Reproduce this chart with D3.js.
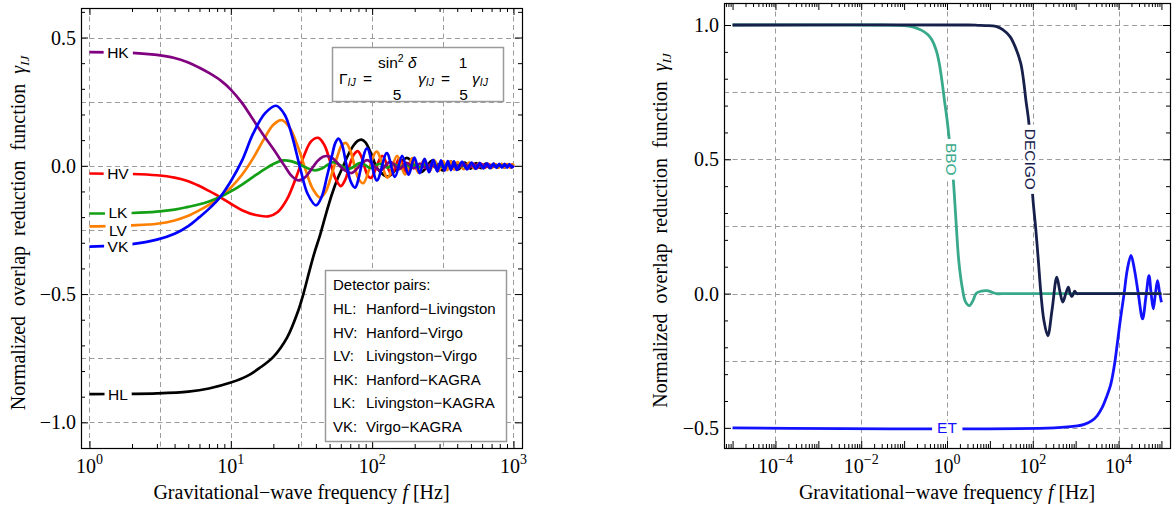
<!DOCTYPE html>
<html>
<head>
<meta charset="utf-8">
<script src="https://cdn.jsdelivr.net/npm/d3@7/dist/d3.min.js"></script>
<style>
html,body{margin:0;padding:0;background:#fff;}
svg{display:block;}
</style>
</head>
<body>
<svg id="chart" width="1176" height="511"></svg>
<script>
// ================= DATA =================
// Left panel: [frequency f (Hz), normalized overlap reduction function gamma_IJ]
const HL = [[1,-0.89],[2,-0.889],[3,-0.887],[5,-0.88],[7,-0.868],[10,-0.845],[13,-0.82],[16,-0.788],[20,-0.745],[25,-0.67],[30,-0.565],[32.6,-0.5],[36,-0.41],[39,-0.34],[42.8,-0.27],[47,-0.19],[52,-0.11],[57,-0.05],[62.6,0.0],[68,0.045],[74,0.08],[79,0.097],[84,0.102],[90,0.09],[96,0.06],[102,0.025],[108,-0.008],[130,-0.042],[176,0.031],[222,-0.025],[268,0.021],[314,-0.018],[360,0.016],[406,-0.014],[452,0.012],[498,-0.011],[544,0.01],[590,-0.0095],[636,0.0088],[682,-0.0082],[728,0.0076],[774,-0.0072],[820,0.0068],[866,-0.0064],[912,0.006],[958,-0.0058],[1000,0]];
const HV = [[1,-0.03],[2,-0.032],[3,-0.037],[4,-0.046],[5,-0.06],[6,-0.079],[7,-0.098],[8.4,-0.122],[10,-0.148],[12,-0.173],[15,-0.192],[18.4,-0.197],[21.5,-0.18],[25,-0.13],[29,-0.045],[33,0.04],[37,0.095],[41.6,0.109],[46,0.08],[50.5,0.015],[55,-0.05],[60,-0.079],[65,-0.05],[70,0.01],[74.5,0.045],[79,0.057],[84,0.035],[89,-0.01],[93.5,-0.04],[98.5,-0.047],[118,0.039],[137,-0.033],[156,0.029],[175,-0.026],[194,0.023],[213,-0.021],[232,0.019],[251,-0.018],[270,0.017],[289,-0.016],[308,0.015],[327,-0.014],[346,0.013],[365,-0.012],[384,0.012],[403,-0.011],[441,0.01],[479,-0.0095],[517,0.009],[555,-0.0085],[593,0.008],[631,-0.0075],[669,0.007],[707,-0.0065],[745,0.006],[783,-0.006],[821,0.0055],[859,-0.0055],[897,0.005],[935,-0.005],[973,0.0045],[1000,0]];
const LV = [[1,-0.236],[2,-0.232],[3,-0.226],[4,-0.213],[5,-0.195],[6,-0.173],[7,-0.152],[8.4,-0.123],[10,-0.085],[12,-0.035],[14.4,0.03],[17,0.1],[20,0.16],[22.9,0.178],[26,0.15],[30,0.07],[34,-0.02],[38,-0.09],[42.8,-0.124],[47,-0.1],[52,-0.03],[57,0.04],[61,0.08],[65.3,0.089],[70,0.06],[75,0.0],[80,-0.05],[86.5,-0.068],[107.5,0.055],[128.5,-0.046],[150,0.039],[171,-0.034],[192,0.03],[213,-0.027],[234,0.025],[255,-0.023],[276,0.021],[297,-0.0195],[318,0.018],[339,-0.017],[360,0.016],[381,-0.015],[402,0.0144],[444,-0.013],[486,0.012],[528,-0.011],[570,0.01],[612,-0.0095],[654,0.009],[696,-0.0083],[738,0.0079],[780,-0.0075],[822,0.0071],[864,-0.0067],[906,0.0064],[948,-0.0061],[990,0.0059],[1000,0]];
const HK = [[1,0.443],[2,0.44],[3,0.432],[4,0.42],[5,0.403],[6,0.382],[7,0.362],[8.5,0.332],[10,0.297],[12,0.245],[14,0.19],[17,0.12],[20,0.065],[24,0.0],[27,-0.04],[30,-0.057],[33.5,-0.045],[37,-0.015],[41,0.018],[44.5,0.034],[48.2,0.038],[53,0.028],[59,0.0],[65,-0.02],[71.7,-0.028],[92,0.022],[113,-0.018],[134,0.015],[155,-0.013],[176,0.011],[197,-0.01],[218,0.009],[239,-0.0085],[260,0.008],[281,-0.0072],[302,0.0067],[323,-0.0062],[344,0.0058],[365,-0.0055],[386,0.0052],[407,-0.005],[449,0.0045],[491,-0.0041],[533,0.0038],[575,-0.0035],[617,0.0032],[659,-0.003],[701,0.0029],[743,-0.0027],[785,0.0025],[827,-0.0024],[869,0.0023],[911,-0.0022],[953,0.0021],[995,-0.002],[1000,0]];
const LK = [[1,-0.186],[2,-0.184],[3,-0.179],[4,-0.171],[5,-0.16],[6,-0.15],[7,-0.139],[8.4,-0.122],[10,-0.1],[12,-0.073],[14.5,-0.042],[17.5,-0.012],[20.5,0.01],[23.5,0.021],[27,0.017],[31,0.004],[35,-0.01],[39.4,-0.018],[44,-0.011],[48.5,0.004],[53.2,0.014],[68,-0.012],[83,0.011],[98,-0.009],[113,0.008],[128,-0.007],[143,0.006],[158,-0.0057],[173,0.0052],[188,-0.0048],[203,0.0044],[218,-0.0041],[233,0.0039],[248,-0.0036],[263,0.0034],[278,-0.0033],[293,0.0031],[308,-0.003],[338,0.0028],[368,-0.0026],[398,0.0024],[428,-0.0022],[458,0.0021],[488,-0.002],[518,0.0019],[548,-0.0018],[578,0.0017],[608,-0.0016],[638,0.0015],[668,-0.0015],[698,0.0014],[728,-0.0014],[758,0.0013],[788,-0.0013],[818,0.0012],[848,-0.0012],[878,0.0011],[908,-0.0011],[938,0.0011],[968,-0.001],[1000,0]];
const VK = [[1,-0.315],[2,-0.305],[3,-0.288],[4,-0.265],[5,-0.235],[6,-0.2],[7,-0.168],[8.4,-0.122],[10,-0.06],[12,0.02],[14.4,0.126],[17.5,0.205],[20.9,0.234],[24,0.2],[27,0.12],[31,-0.01],[35,-0.11],[40.1,-0.154],[44,-0.12],[48,-0.04],[52,0.04],[55,0.09],[57.7,0.106],[61,0.085],[66,0.0],[71,-0.065],[75.7,-0.085],[92,0.068],[108,-0.057],[127,0.049],[145,-0.043],[163,0.039],[181,-0.035],[199,0.032],[217,-0.029],[235,0.027],[253,-0.025],[271,0.023],[289,-0.022],[307,0.021],[325,-0.019],[343,0.018],[361,-0.017],[379,0.017],[397,-0.016],[433,0.015],[469,-0.0135],[505,0.0125],[541,-0.0117],[577,0.011],[613,-0.0103],[649,0.0097],[685,-0.0092],[721,0.0087],[757,-0.0083],[793,0.008],[829,-0.0076],[865,0.0073],[901,-0.007],[937,0.0067],[973,-0.0065],[1000,0]];

const pairNames = ["HL","HV","LV","LK","HK","VK"];           // drawing order
const pairLabelGamma = [-0.89,-0.03,-0.25,-0.182,0.443,-0.315]; // value where each inline label sits
const pairLabelFreq = 1.59;
const legendTitle = "Detector pairs:";
const legendKeys  = ["HL:","HV:","LV:","HK:","LK:","VK:"];
const legendNames = ["Hanford−Livingston","Hanford−Virgo","Livingston−Virgo","Hanford−KAGRA","Livingston−KAGRA","Virgo−KAGRA"];

// Right panel: [log10 f (Hz), gamma_IJ]
const BBO = [[-5,1],[-1.5,1],[-1,0.998],[-0.8,0.993],[-0.6,0.981],[-0.45,0.965],[-0.35,0.944],[-0.25,0.905],[-0.18,0.857],[-0.12,0.795],[-0.06,0.72],[0,0.65],[0.047,0.582],[0.1,0.5],[0.148,0.422],[0.21,0.27],[0.274,0.123],[0.354,0.024],[0.43,-0.03],[0.52,-0.045],[0.6,-0.028],[0.685,0.001],[0.8,0.009],[0.93,0.011],[1.05,0.005],[1.15,0.0],[1.4,0],[5,0]];
const DECIGO = [[-5,1],[0.5,1],[0.72,0.999],[0.9,0.998],[1.14,0.995],[1.3,0.983],[1.47,0.957],[1.6,0.915],[1.72,0.857],[1.78,0.8],[1.84,0.72],[1.91,0.634],[1.955,0.5],[2.0,0.36],[2.07,0.24],[2.13,0.123],[2.19,0.0],[2.26,-0.1],[2.35,-0.157],[2.45,-0.06],[2.56,0.061],[2.63,0.01],[2.7,-0.032],[2.77,0.0],[2.83,0.024],[2.87,0.0],[2.91,-0.011],[2.95,0],[2.98,0.009],[3.02,0.0],[3.1,0],[5,0]];
const ET = [[-5,-0.5],[2.5,-0.5],[3.04,-0.493],[3.2,-0.487],[3.37,-0.474],[3.5,-0.455],[3.62,-0.424],[3.72,-0.385],[3.82,-0.337],[3.9,-0.27],[3.95,-0.213],[4.0,-0.15],[4.05,-0.088],[4.13,0.0],[4.2,0.085],[4.29,0.142],[4.37,0.09],[4.46,0.0],[4.56,-0.094],[4.64,-0.01],[4.71,0.067],[4.76,0.0],[4.81,-0.057],[4.86,0.0],[4.91,0.048],[4.96,0.0],[5.0,-0.032]];
const detectorNames = ["ET","BBO","DECIGO"];
const detectorLabelAt = [[0,-0.5],[0.1,0.5],[1.955,0.5]];

// Axes / tick labels
const leftFreqDomain = [0.871, 1149];
const leftGammaDomain = [-1.1, 0.615];
const rightFreqDomain = [Math.pow(10,-5.2), Math.pow(10,5.2)];
const rightGammaDomain = [-0.575, 1.082];
const leftXTickValues = [1,10,100,1000];
const leftXTickSup = ["0","1","2","3"];
const leftYTickValues = [-1,-0.5,0,0.5];
const leftYTickLabels = ["−1.0","−0.5","0.0","0.5"];
const leftGridX = [1,3.1623,10,31.623,100,316.23,1000];
const leftGridY = [-1,-0.75,-0.5,-0.25,0,0.25,0.5];
const rightXTickValues = [1e-4,1e-2,1,1e2,1e4];
const rightXTickSup = ["−4","−2","0","2","4"];
const rightYTickValues = [-0.5,0,0.5,1];
const rightYTickLabels = ["−0.5","0.0","0.5","1.0"];
const rightGridX = [1e-4,1e-2,1,1e2,1e4];
const rightGridY = [-0.5,-0.25,0,0.25,0.5,0.75,1];

// ================= STYLE / LAYOUT =================
const pairColors = {HL:"#000000",HV:"#ff0000",LV:"#ff8000",LK:"#14a014",HK:"#800080",VK:"#0000ff"};
const detColors = {ET:"#1212ff",BBO:"#38a98b",DECIGO:"#17204b"};
const serif = "'Liberation Serif','Times New Roman',serif";
const sans = "'Liberation Sans',Arial,Helvetica,sans-serif";
const L = {x0:81,x1:522,y0:8,y1:448};
const R = {x0:724,x1:1170,y0:3,y1:448};

const svg = d3.select("#chart");
svg.append("rect").attr("width",1176).attr("height",511).attr("fill","#fff");

const xL = d3.scaleLog().domain(leftFreqDomain).range([L.x0,L.x1]);
const yL = d3.scaleLinear().domain(leftGammaDomain).range([L.y1,L.y0]);
const xR = d3.scaleLog().domain(rightFreqDomain).range([R.x0,R.x1]);
const yR = d3.scaleLinear().domain(rightGammaDomain).range([R.y1,R.y0]);

function grid(P,x,y,gx,gy){
  const g = svg.append("g").attr("stroke","#9c9c9c").attr("stroke-width",1).attr("stroke-dasharray","5,3.5").attr("fill","none");
  g.selectAll(null).data(gx).join("line")
    .attr("x1",d=>Math.round(x(d))+0.5).attr("x2",d=>Math.round(x(d))+0.5).attr("y1",P.y0).attr("y2",P.y1);
  g.selectAll(null).data(gy).join("line")
    .attr("y1",d=>Math.round(y(d))+0.5).attr("y2",d=>Math.round(y(d))+0.5).attr("x1",P.x0).attr("x2",P.x1);
}

function axes(P,x,y,xMaj,xMin,yMaj,yMin,yLabels,xSup){
  const g = svg.append("g");
  const mk=(axis,tx,ty,vals,size)=>{
    const a = g.append("g").attr("transform",`translate(${tx},${ty})`)
      .call(axis.tickValues(vals).tickSizeInner(-size).tickSizeOuter(0).tickFormat(""));
    a.select(".domain").remove();
    a.selectAll("line").attr("stroke","#000").attr("stroke-width",1);
  };
  mk(d3.axisBottom(x),0,P.y1,xMaj,7); mk(d3.axisBottom(x),0,P.y1,xMin,4);
  mk(d3.axisTop(x),0,P.y0,xMaj,7);    mk(d3.axisTop(x),0,P.y0,xMin,4);
  mk(d3.axisLeft(y),P.x0,0,yMaj,7);   mk(d3.axisLeft(y),P.x0,0,yMin,4);
  mk(d3.axisRight(y),P.x1,0,yMaj,7);  mk(d3.axisRight(y),P.x1,0,yMin,4);
  const la = g.append("g").attr("transform",`translate(${P.x0},0)`)
    .call(d3.axisLeft(y).tickValues(yMaj).tickSize(0).tickPadding(5).tickFormat((d,i)=>yLabels[i]));
  la.select(".domain").remove();
  la.selectAll("text").attr("font-family",serif).attr("font-size",20).attr("fill","#000").attr("dy","0.33em");
  const xl = g.append("g");
  xSup.vals.forEach((v,i)=>{
    const t = xl.append("text").attr("x",x(v)).attr("y",P.y1+25).attr("text-anchor","middle")
      .attr("font-family",serif).attr("font-size",20).attr("fill","#000");
    t.append("tspan").text("10");
    t.append("tspan").attr("dy",-9).attr("font-size",14).text(xSup.sup[i]);
  });
  g.append("rect").attr("x",P.x0+0.5).attr("y",P.y0+0.5).attr("width",P.x1-P.x0).attr("height",P.y1-P.y0)
    .attr("fill","none").attr("stroke","#000").attr("stroke-width",1.2);
}

function titles(P,cx){
  const xt = svg.append("text").attr("x",(P.x0+P.x1)/2).attr("y",499).attr("text-anchor","middle")
    .attr("font-family",serif).attr("font-size",20).attr("fill","#000");
  xt.append("tspan").text("Gravitational−wave frequency ");
  xt.append("tspan").attr("font-style","italic").text("f");
  xt.append("tspan").text(" [Hz]");
  const yt = svg.append("text").attr("transform",`translate(${cx},${(P.y0+P.y1)/2+5}) rotate(-90)`)
    .attr("text-anchor","middle").attr("font-family",serif).attr("font-size",20).attr("fill","#000")
    .attr("word-spacing",5);
  yt.append("tspan").text("Normalized  overlap  reduction  function  ");
  yt.append("tspan").attr("font-style","italic").text("γ");
  yt.append("tspan").attr("font-style","italic").attr("font-size",13).attr("dy",4).text("IJ");
}

function inlineLabel(x,y,text,color,rot,padX,padY){
  const g = svg.append("g").attr("transform",`translate(${x},${y}) rotate(${rot})`);
  const r = g.append("rect").attr("fill","#fff");
  const t = g.append("text").attr("text-anchor","middle").attr("dy","0.36em")
    .attr("font-family",sans).attr("font-size",15.5).attr("fill",color).text(text);
  const b = t.node().getBBox();
  r.attr("x",b.x-padX).attr("width",b.width+2*padX).attr("y",-6.5-padY).attr("height",13+2*padY);
}

// ---------------- LEFT PANEL ----------------
grid(L,xL,yL,leftGridX,leftGridY);
const leftMinorX = [];
[1,10,100].forEach(b=>{for(let k=2;k<=9;k++) leftMinorX.push(b*k);});
const leftMinorY = [-0.9,-0.8,-0.7,-0.6,-0.4,-0.3,-0.2,-0.1,0.1,0.2,0.3,0.4,0.6];
axes(L,xL,yL,leftXTickValues,leftMinorX,leftYTickValues,leftMinorY,leftYTickLabels,{vals:leftXTickValues,sup:leftXTickSup});
titles(L,25);

const pairData = {HL,HV,LV,HK,LK,VK};
const lineL = d3.line().x(d=>xL(d[0])).y(d=>yL(d[1])).curve(d3.curveCatmullRom.alpha(0.5));
svg.append("defs").append("clipPath").attr("id","clipL").append("rect")
  .attr("x",L.x0).attr("y",L.y0).attr("width",L.x1-L.x0).attr("height",L.y1-L.y0);
const gl = svg.append("g").attr("clip-path","url(#clipL)");
pairNames.forEach(n=>{
  gl.append("path").attr("d",lineL(pairData[n])).attr("fill","none")
    .attr("stroke",pairColors[n]).attr("stroke-width",2.7).attr("stroke-linejoin","round");
});
pairNames.forEach((n,i)=>{
  inlineLabel(xL(pairLabelFreq),yL(pairLabelGamma[i]),n,"#000",0,3.5,0);
});

// formula box
const fb = svg.append("g").attr("font-family",sans).attr("font-size",15.5).attr("fill","#000");
fb.append("rect").attr("x",332.5).attr("y",47.5).attr("width",171).attr("height",54)
  .attr("fill","#fff").attr("stroke","#9a9a9a").attr("stroke-width",1.5);
let t1 = fb.append("text").attr("x",339).attr("y",83.5);
t1.append("tspan").text("Γ");
t1.append("tspan").attr("font-style","italic").attr("font-size",10.5).attr("dy",2.5).text("IJ");
fb.append("text").attr("x",363).attr("y",83.5).text("=");
let t2 = fb.append("text").attr("x",378).attr("y",67.5);
t2.append("tspan").text("sin");
t2.append("tspan").attr("font-size",10.5).attr("dy",-6).text("2");
t2.append("tspan").attr("dy",6).text(" ");
t2.append("tspan").attr("font-style","italic").text("δ");
fb.append("text").attr("x",397).attr("y",100).attr("text-anchor","middle").text("5");
let t3 = fb.append("text").attr("x",418).attr("y",83.5);
t3.append("tspan").attr("font-style","italic").text("γ");
t3.append("tspan").attr("font-style","italic").attr("font-size",10.5).attr("dy",2.5).text("IJ");
fb.append("text").attr("x",441).attr("y",83.5).text("=");
fb.append("text").attr("x",463).attr("y",67.5).attr("text-anchor","middle").text("1");
fb.append("text").attr("x",463.5).attr("y",100).attr("text-anchor","middle").text("5");
let t4 = fb.append("text").attr("x",472).attr("y",83.5);
t4.append("tspan").attr("font-style","italic").text("γ");
t4.append("tspan").attr("font-style","italic").attr("font-size",10.5).attr("dy",2.5).text("IJ");

// legend box
const lg = svg.append("g").attr("font-family",sans).attr("font-size",15).attr("fill","#000");
lg.append("rect").attr("x",325.5).attr("y",270.5).attr("width",181).attr("height",171)
  .attr("fill","#fff").attr("stroke","#9a9a9a").attr("stroke-width",1.5);
lg.append("text").attr("x",333).attr("y",290).text(legendTitle);
legendKeys.forEach((k,i)=>{
  const yy = 314 + i*23.6;
  lg.append("text").attr("x",333).attr("y",yy).text(k);
  lg.append("text").attr("x",366).attr("y",yy).text(legendNames[i]);
});

// ---------------- RIGHT PANEL ----------------
grid(R,xR,yR,rightGridX,rightGridY);
const rightMajorX = [], rightMinorX = [];
for(let e=-6;e<=5;e++){
  const b = Math.pow(10,e);
  if (b>=rightFreqDomain[0] && b<=rightFreqDomain[1]) rightMajorX.push(b);
  for(let k=2;k<=9;k++){ const v=b*k; if(v>=rightFreqDomain[0] && v<=rightFreqDomain[1]) rightMinorX.push(v); }
}
const rightMinorY = [-0.4,-0.3,-0.2,-0.1,0.1,0.2,0.3,0.4,0.6,0.7,0.8,0.9];
axes(R,xR,yR,rightMajorX,rightMinorX,rightYTickValues,rightMinorY,rightYTickLabels,{vals:rightXTickValues,sup:rightXTickSup});
titles(R,667);

svg.select("defs").append("clipPath").attr("id","clipR").append("rect")
  .attr("x",R.x0).attr("y",R.y0).attr("width",R.x1-R.x0).attr("height",R.y1-R.y0);
const lineR = d3.line().x(d=>xR(Math.pow(10,d[0]))).y(d=>yR(d[1])).curve(d3.curveCatmullRom.alpha(0.5));
const gr = svg.append("g").attr("clip-path","url(#clipR)");
const detData = {ET,BBO,DECIGO};
detectorNames.forEach(n=>{
  gr.append("path").attr("d",lineR(detData[n])).attr("fill","none")
    .attr("stroke",detColors[n]).attr("stroke-width",2.8).attr("stroke-linejoin","round");
});
detectorNames.forEach((n,i)=>{
  const p = detectorLabelAt[i];
  inlineLabel(xR(Math.pow(10,p[0])),yR(p[1]),n,detColors[n],n==="ET"?0:90,n==="ET"?5:4,n==="ET"?0:1.5);
});
</script>
</body>
</html>
